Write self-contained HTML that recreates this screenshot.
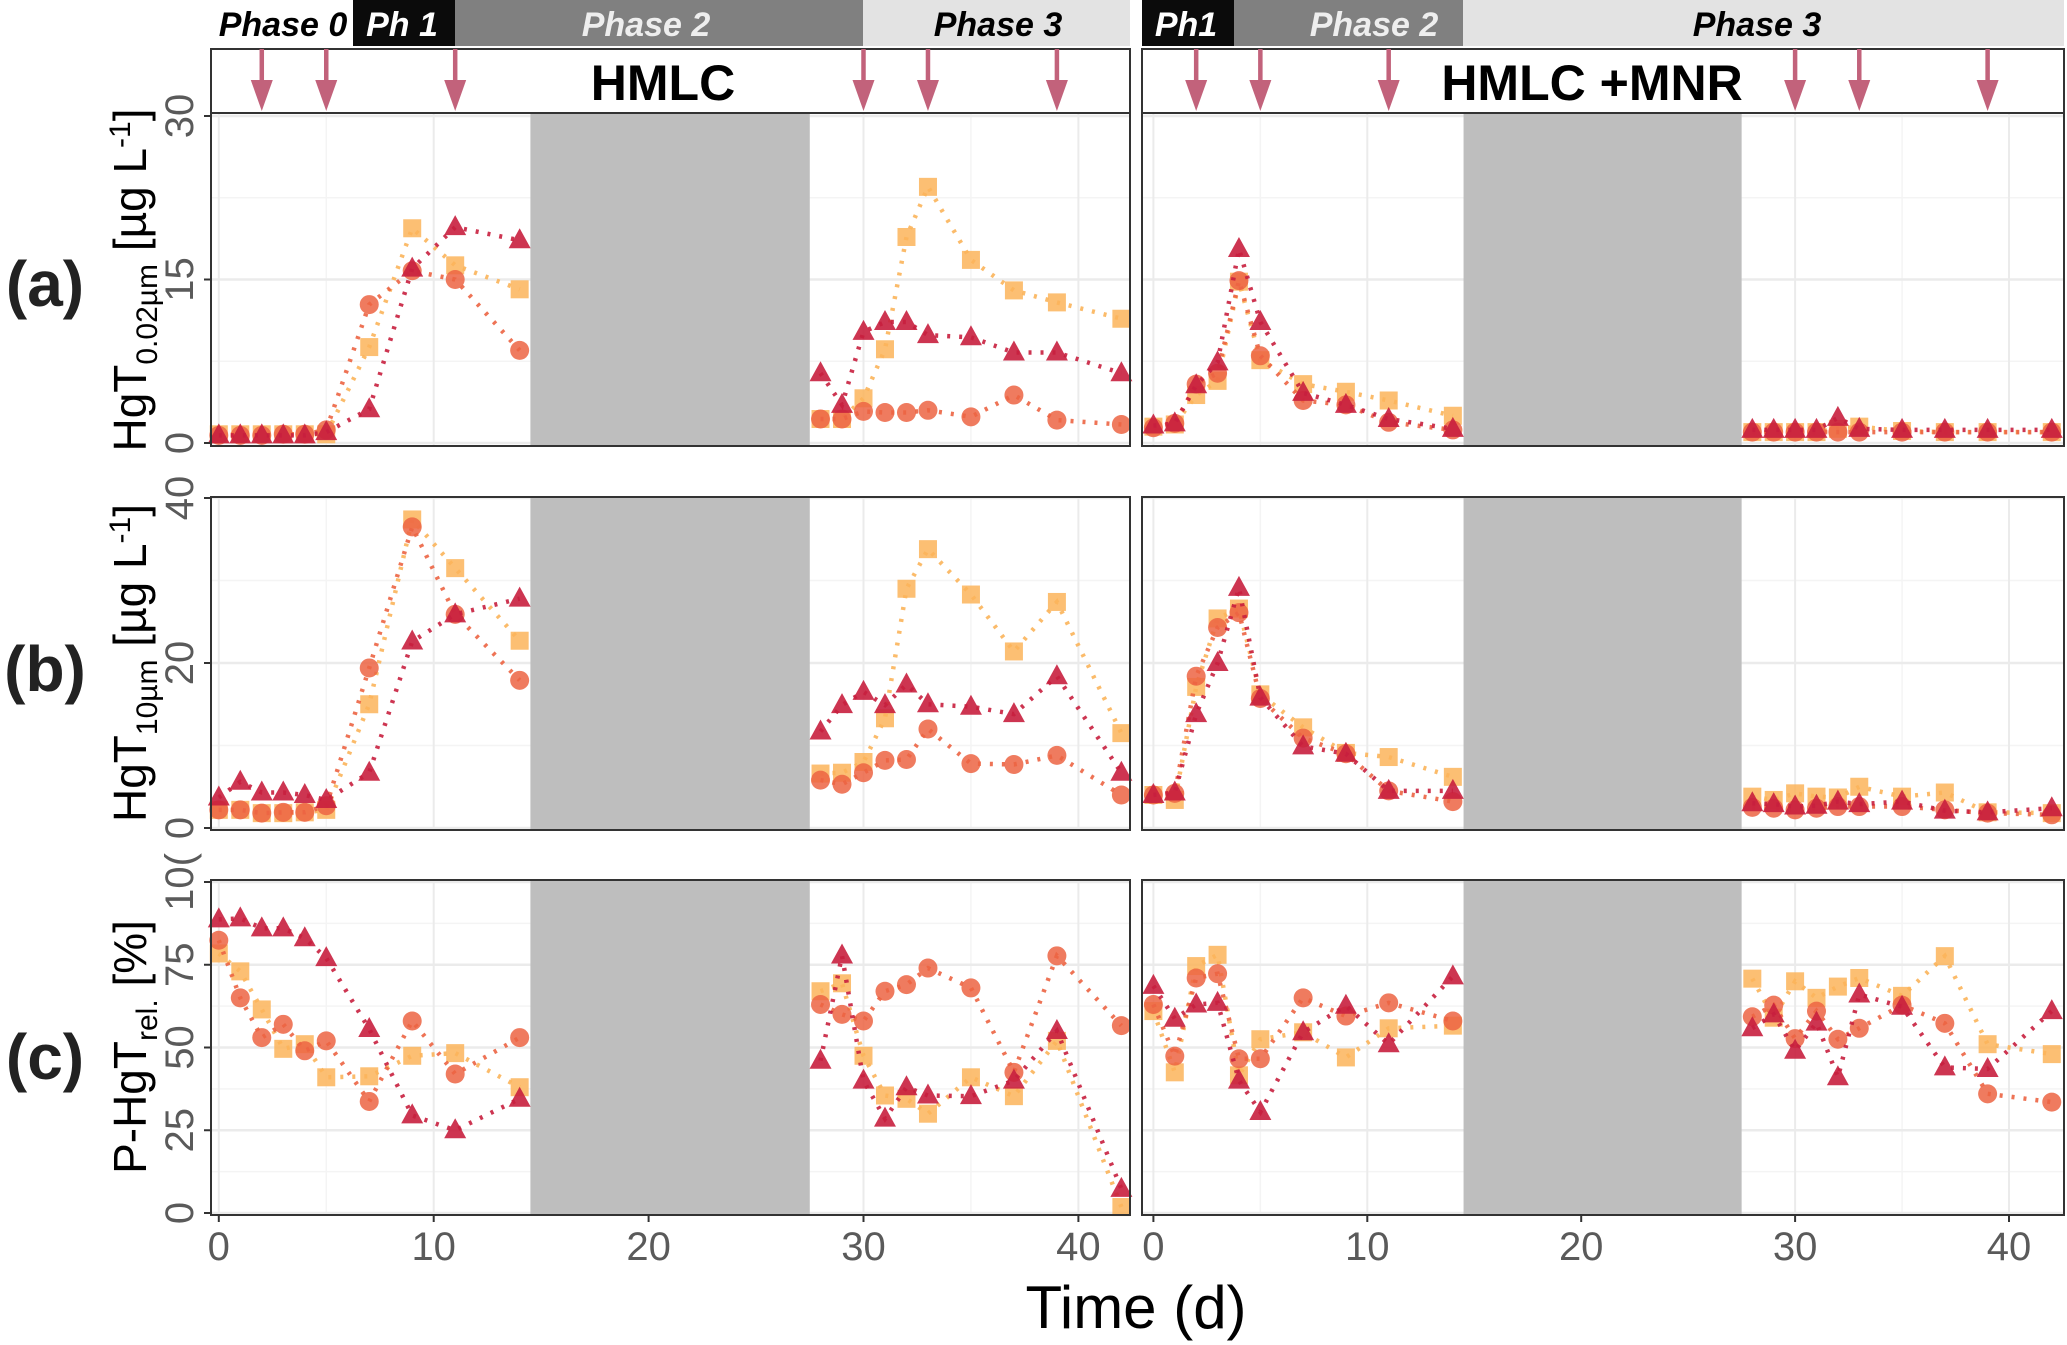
<!DOCTYPE html>
<html><head><meta charset="utf-8"><style>
html,body{margin:0;padding:0;background:#fff;}
svg{display:block;font-family:"Liberation Sans",sans-serif;}
</style></head><body>
<svg id="chart" width="2067" height="1345" viewBox="0 0 2067 1345" xmlns="http://www.w3.org/2000/svg"></svg>
<script>
const days = [0,1,2,3,4,5,7,9,11,14,28,29,30,31,32,33,35,37,39,42];
const arrowDays = [2,5,11,30,33,39];
const xTicks = [0,10,20,30,40];
const ticksA = [0,15,30];
const ticksB = [0,20,40];
const ticksC = [0,25,50,75,100];
const tickLabelsC = ["0","25","50","75","10("];
// HMLC panel (a)
const LA_sq = [0.8,0.8,0.8,0.8,0.8,0.8,8.8,19.7,16.3,14.1,2.2,2.2,4.1,8.6,18.9,23.5,16.8,14.0,12.9,11.4];
const LA_ci = [0.7,0.7,0.7,0.8,0.8,1.2,12.7,15.8,15.0,8.5,2.2,2.2,2.9,2.8,2.8,3.0,2.4,4.4,2.1,1.7];
const LA_tr = [0.7,0.7,0.7,0.7,0.7,1.0,3.1,16.0,19.8,18.6,6.4,3.5,10.2,11.1,11.1,9.9,9.7,8.3,8.3,6.4];
// HMLC+MNR panel (a)
const RA_sq = [1.5,1.7,4.4,5.7,14.8,7.6,5.4,4.7,3.9,2.5,1.0,1.0,1.0,1.0,1.3,1.5,1.1,1.0,1.0,1.0];
const RA_ci = [1.4,1.8,5.4,6.4,14.9,8.0,3.9,3.5,1.9,1.2,1.0,1.0,1.0,1.0,1.0,1.0,1.0,1.0,1.0,1.0];
const RA_tr = [1.6,1.8,5.3,7.4,17.8,11.1,4.6,3.5,2.2,1.3,1.2,1.2,1.2,1.2,2.3,1.3,1.2,1.2,1.2,1.2];
// panel (b)
const LB_sq = [2.2,2.2,1.8,1.8,1.9,2.2,15,37.4,31.5,22.7,6.6,6.7,8,13.3,29,33.8,28.3,21.4,27.4,11.5];
const LB_ci = [2.2,2.2,1.8,1.9,1.9,2.7,19.4,36.5,25.9,17.9,5.8,5.3,6.7,8.2,8.3,12,7.8,7.7,8.8,4.0];
const LB_tr = [3.7,5.6,4.3,4.3,4.0,3.4,6.7,22.6,25.9,27.8,11.7,14.9,16.5,14.9,17.4,15,14.7,13.8,18.4,6.7];
const RB_sq = [4,3.4,17.1,25.4,26.6,16.2,12.2,9.1,8.6,6.2,3.8,3.4,4.2,3.8,3.7,5,3.8,4.3,1.9,1.8];
const RB_ci = [4,4.2,18.4,24.3,26.1,15.7,10.9,9,4.5,3.2,2.5,2.4,2.2,2.4,2.6,2.6,2.6,2.2,1.8,1.6];
const RB_tr = [4,4.3,13.8,20,29.1,15.8,9.9,9,4.5,4.5,3,2.9,2.6,2.7,3.2,2.9,3.2,2.1,1.9,2.4];
// panel (c)
const LC_sq = [78.4,73,61.5,49.6,51,41,41.3,47.5,48.3,38,67,69.4,47.5,35.5,34.5,30,41,35.3,52,1.8];
const LC_ci = [82.4,65,53,57,49,52,33.7,58,42,53,63,60,58,67,69,74,68,42.5,77.7,56.6];
const LC_tr = [88.7,89,86,86,83,77,55.6,29.5,25,34.5,46,77.8,40,28.5,38,35.5,35.3,40,55,7.3];
const RC_sq = [61,42.5,74.6,78,41.6,52.5,54.6,47,55.8,56.6,70.8,59,70,65,68.4,71,65.6,77.6,51,48];
const RC_ci = [63,47.4,71,72.3,46.6,46.6,65,59.5,63.5,58,59.3,62.8,52.7,61,52.5,55.8,62.8,57.3,36,33.5];
const RC_tr = [68.6,58.7,63,63.5,40,30.5,54.6,62.6,51,71.5,55.8,60,49,57.5,41,66,62.3,44,43.5,61];

const NS="http://www.w3.org/2000/svg";
const svg=document.getElementById('chart');
function mk(tag,attrs,parent){const e=document.createElementNS(NS,tag);for(const k in attrs)e.setAttribute(k,attrs[k]);(parent||svg).appendChild(e);return e;}

const cols=[
 {name:'hmlc',x0:211,x1:1130,X:d=>218.8+d*21.49},
 {name:'hmlc-mnr',x0:1142,x1:2064,X:d=>1153.4+d*21.39}
];
const rows=[
 {name:'a',y0:113,y1:446,Y:v=>443-v*10.9,ticks:ticksA,labels:ticksA.map(String),
  data:[[LA_sq,LA_ci,LA_tr],[RA_sq,RA_ci,RA_tr]]},
 {name:'b',y0:497,y1:830,Y:v=>828-v*8.25,ticks:ticksB,labels:ticksB.map(String),
  data:[[LB_sq,LB_ci,LB_tr],[RB_sq,RB_ci,RB_tr]]},
 {name:'c',y0:880,y1:1215,Y:v=>1213-v*3.31,ticks:ticksC,labels:tickLabelsC,
  data:[[LC_sq,LC_ci,LC_tr],[RC_sq,RC_ci,RC_tr]]}
];
const seriesCol=['#fbb45a','#ec6443','#c81f3e'];
const seriesName=['square','circle','triangle'];

const headers=[
 [211,353,'#ffffff','#000','Phase 0',283],[353,455,'#0b0b0b','#fff','Ph 1',402],[455,863,'#808080','#eeeeee','Phase 2',646],[863,1130,'#e3e3e3','#000','Phase 3',998],
 [1142,1234,'#0b0b0b','#fff','Ph1',1186],[1234,1463,'#808080','#eeeeee','Phase 2',1374],[1463,2064,'#e3e3e3','#000','Phase 3',1757]
];
headers.forEach(h=>{
 const r=mk('rect',{x:h[0],y:0,width:h[1]-h[0],height:46,fill:h[2]});
 
 
 const t=mk('text',{x:h[5],y:36,'text-anchor':'middle','font-size':34,'font-weight':'bold','font-style':'italic',fill:h[3]});
 t.textContent=h[4];
 
 
});

cols.forEach((c,ci)=>{
 const s=mk('rect',{x:c.x0,y:49,width:c.x1-c.x0,height:64,fill:'#fff',stroke:'#333','stroke-width':2});
 
 
 const st=mk('text',{x:ci?1592:663,y:100,'text-anchor':'middle','font-size':50,'font-weight':'bold',fill:'#000'});
 st.textContent=ci?'HMLC +MNR':'HMLC';
 
 
 arrowDays.forEach(d=>{
  const x=c.X(d);
  const g=mk('g',{});
  
  
  mk('line',{x1:x,y1:49,x2:x,y2:90,stroke:'#c2627b','stroke-width':4.5},g);
  mk('path',{d:`M${x-11},${80} L${x+11},${80} L${x},${111} Z`,fill:'#c2627b'},g);
 });
 rows.forEach((r,ri)=>{
  const g=mk('g',{});
  
  
  mk('rect',{x:c.x0,y:r.y0,width:c.x1-c.x0,height:r.y1-r.y0,fill:'#fff'},g);
  for(let d=5;d<=42;d+=10) mk('line',{x1:c.X(d),x2:c.X(d),y1:r.y0,y2:r.y1,stroke:'#f4f4f4','stroke-width':1.5},g);
  for(let i=0;i<r.ticks.length-1;i++){const v=(r.ticks[i]+r.ticks[i+1])/2;mk('line',{x1:c.x0,x2:c.x1,y1:r.Y(v),y2:r.Y(v),stroke:'#f4f4f4','stroke-width':1.5},g);}
  xTicks.forEach(d=>mk('line',{x1:c.X(d),x2:c.X(d),y1:r.y0,y2:r.y1,stroke:'#ebebeb','stroke-width':2},g));
  r.ticks.forEach(v=>mk('line',{x1:c.x0,x2:c.x1,y1:r.Y(v),y2:r.Y(v),stroke:'#ebebeb','stroke-width':2.5},g));
  const b=mk('rect',{x:c.X(14.5),y:r.y0,width:c.X(27.5)-c.X(14.5),height:r.y1-r.y0,fill:'#bebebe'},g);
  
  
  const set=r.data[ci];
  set.forEach((vals,si)=>{
   const col=seriesCol[si];
   const sg=mk('g',{},g);
   
   
   [[0,10],[10,20]].forEach(([a,bb])=>{
    let p='';
    for(let i=a;i<bb;i++)p+=(i===a?'M':'L')+c.X(days[i]).toFixed(1)+','+r.Y(vals[i]).toFixed(1);
    mk('path',{d:p,fill:'none',stroke:col,'stroke-width':4.5,'stroke-dasharray':'3 9','stroke-linecap':'butt',opacity:0.9},sg);
   });
   days.forEach((d,i)=>{
    const x=c.X(d),y=r.Y(vals[i]);let m;
    if(si===0)m=mk('rect',{x:x-9,y:y-9,width:18,height:18,fill:col,opacity:0.85},sg);
    else if(si===1)m=mk('circle',{cx:x,cy:y,r:9.5,fill:col,opacity:0.85},sg);
    else m=mk('path',{d:`M${x},${y-12} L${x+11},${y+8} L${x-11},${y+8} Z`,fill:col,opacity:0.9},sg);
    
    
   });
  });
  mk('rect',{x:c.x0,y:r.y0,width:c.x1-c.x0,height:r.y1-r.y0,fill:'none',stroke:'#333','stroke-width':2},g);
  if(ci===0){
   r.ticks.forEach((v,k)=>{
    mk('line',{x1:c.x0-7,x2:c.x0,y1:r.Y(v),y2:r.Y(v),stroke:'#333','stroke-width':2});
    const t=mk('text',{x:0,y:0,'text-anchor':'middle','font-size':40,fill:'#5a5a5a',transform:`translate(193,${r.Y(v)}) rotate(-90)`});
    t.textContent=r.labels[k];
    
    
   });
  }
  if(ri===2){
   xTicks.forEach(d=>{
    mk('line',{x1:c.X(d),x2:c.X(d),y1:r.y1,y2:r.y1+7,stroke:'#333','stroke-width':2});
    const t=mk('text',{x:c.X(d),y:1260,'text-anchor':'middle','font-size':40,fill:'#5a5a5a'});
    t.textContent=String(d);
    
    
   });
  }
 });
});

function ytitle(cy,html,name){
 const t=mk('text',{x:0,y:0,'text-anchor':'middle','font-size':46,fill:'#000',transform:`translate(146,${cy}) rotate(-90)`});
 t.innerHTML=html;
 
 
}
ytitle(280,'HgT<tspan font-size="30" dy="11">0.02µm</tspan><tspan dy="-11"> [µg L</tspan><tspan font-size="30" dy="-16">-1</tspan><tspan dy="16">]</tspan>','y-axis-title-a');
ytitle(663,'HgT<tspan font-size="30" dy="11">10µm</tspan><tspan dy="-11"> [µg L</tspan><tspan font-size="30" dy="-16">-1</tspan><tspan dy="16">]</tspan>','y-axis-title-b');
ytitle(1047,'P-HgT<tspan font-size="30" dy="11">rel.</tspan><tspan dy="-11"> [%]</tspan>','y-axis-title-c');

[['(a)',306],['(b)',691],['(c)',1079]].forEach(p=>{
 const t=mk('text',{x:45,y:p[1],'text-anchor':'middle','font-size':64,'font-weight':'bold',fill:'#222'});
 t.textContent=p[0];
 
 
});
const xt=mk('text',{x:1136,y:1328,'text-anchor':'middle','font-size':60,fill:'#000'});
xt.textContent='Time (d)';


</script>
</body></html>
